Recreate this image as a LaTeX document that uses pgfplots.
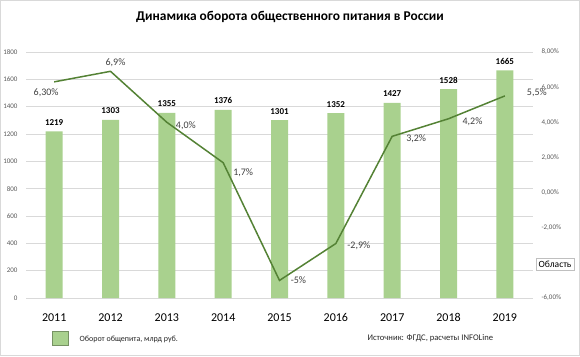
\documentclass[border=0pt]{standalone}
\usepackage{pgfplots}
\usepackage{pgfplotstable}
\pgfplotsset{compat=1.18}
\usepackage{fontspec}
\setmainfont{Carlito}
\definecolor{barg}{HTML}{A9D18E}
\definecolor{lineg}{HTML}{548235}
\definecolor{gridc}{HTML}{D9D9D9}
\definecolor{tickc}{HTML}{595959}
\definecolor{lblc}{HTML}{404040}

\pgfplotstableread{
x val
0 1219
1 1303
2 1355
3 1376
4 1301
5 1352
6 1427
7 1528
8 1665
}\bars

\pgfplotstableread{
x p lab dx dy
0 6.3 6,30 -8 -11
1 6.9 6,9 5 9
2 4.0 4,0 19 -3
3 1.7 1,7 20 -10
4 -5 -5 19 0
5 -2.9 -2,9 23 -2
6 3.2 3,2 24 -2
7 4.2 4,2 24 -3
8 5.5 5,5 32 3
}\pct

\begin{document}
\begin{tikzpicture}
\path[use as bounding box] (0,0) rectangle (580pt,356pt);
\draw[gray!30, line width=0.6pt] (0.5pt,0.5pt) rectangle (579.5pt,355.5pt);

\begin{axis}[
  at={(26pt,58pt)}, anchor=south west,
  scale only axis, width=507pt, height=246pt,
  xmin=-0.5, xmax=8.5, ymin=0, ymax=1800,
  ytick={0,200,...,1800},
  xtick={0,...,8}, xticklabels={2011,2012,2013,2014,2015,2016,2017,2018,2019},
  axis line style={draw=none}, major tick length=0pt,
  ymajorgrids, grid style={gridc, line width=0.6pt},
  /pgf/number format/assume math mode=true,
  /pgf/number format/set thousands separator={},
  yticklabel style={font=\fontsize{7}{8}\selectfont, color=tickc, xshift=-5pt},
  xticklabel style={font=\fontsize{12}{14}\selectfont, color=black, yshift=-12pt},
  clip=false,
]
\addplot[ybar, bar width=17pt, fill=barg, draw=none,
  nodes near coords,
  nodes near coords style={font=\bfseries\fontsize{9}{10}\selectfont, color=black, anchor=center, yshift=9pt}]
  table[x=x,y=val]{\bars};
\end{axis}

\begin{axis}[
  at={(26pt,58pt)}, anchor=south west,
  scale only axis, width=507pt, height=246pt,
  xmin=-0.5, xmax=8.5, ymin=-6, ymax=8,
  ytick={-6,-4,...,8}, xtick=\empty,
  yticklabel pos=right,
  axis line style={draw=none}, major tick length=0pt,
  /pgf/number format/assume math mode=true,
  yticklabel={\pgfmathprintnumber[fixed,fixed zerofill,precision=2,use comma]{\tick}\%},
  yticklabel style={font=\fontsize{7}{8}\selectfont, color=tickc, xshift=5pt},
  clip=false,
]
\addplot[lineg, line width=1.5pt, mark=none] table[x=x,y=p]{\pct};
\addplot[draw=none, mark=none,
  visualization depends on={\thisrow{dx}\as\dx},
  visualization depends on={\thisrow{dy}\as\dy},
  point meta=explicit symbolic,
  nodes near coords={\pgfplotspointmeta\%},
  nodes near coords style={font=\fontsize{10}{11}\selectfont, color=lblc, anchor=center, xshift=\dx pt, yshift=\dy pt}]
  table[x=x,y=p,meta=lab]{\pct};
\end{axis}

\node[font=\bfseries\fontsize{13.4}{15}\selectfont] at (290pt,339pt) {Динамика оборота общественного питания в России};
\draw[draw=barg!70!black, fill=barg, line width=0.6pt] (52pt,11pt) rectangle (68pt,25pt);
\node[anchor=west, font=\fontsize{8}{9}\selectfont, color=black!85] at (76pt,17pt) {Оборот общепита, млрд руб.};
\node[anchor=west, font=\fontsize{8.6}{10}\selectfont, color=black!85] at (364pt,18pt) {Источник: ФГДС, расчеты INFOLine};
\node[draw=gray!50, fill=white, font=\fontsize{9.5}{11}\selectfont, inner sep=2.5pt, anchor=west] at (536pt,92pt) {Область};
\end{tikzpicture}
\end{document}
